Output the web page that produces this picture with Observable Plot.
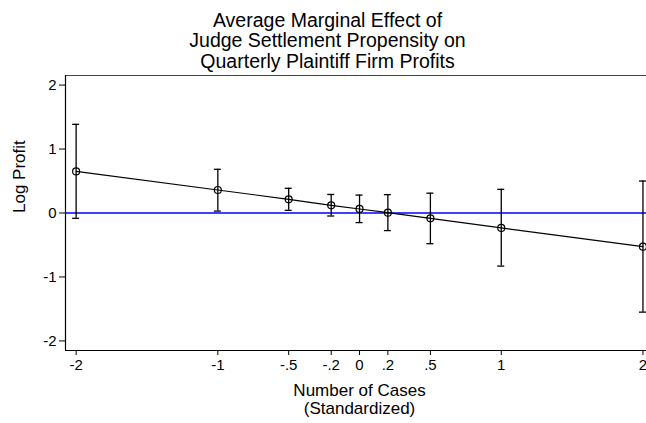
<!DOCTYPE html>
<html>
<head>
<meta charset="utf-8">
<script src="https://cdn.jsdelivr.net/npm/d3@7"></script>
<script src="https://cdn.jsdelivr.net/npm/@observablehq/plot@0.6"></script>
<style>
  html, body { margin: 0; padding: 0; background: #fff; }
  #chart { width: 646px; height: 423px; }
</style>
</head>
<body>
<div id="chart"></div>
<script>
// Data
const xValues = [-2, -1, -0.5, -0.2, 0, 0.2, 0.5, 1, 2];
const estimates = [0.65, 0.36, 0.214, 0.12, 0.063, 0.005, -0.083, -0.234, -0.526];
const lowerCI = [-0.083, 0.03, 0.042, -0.047, -0.15, -0.275, -0.48, -0.83, -1.55];
const upperCI = [1.386, 0.683, 0.386, 0.29, 0.28, 0.287, 0.31, 0.37, 0.5];
const xTickLabels = ["-2", "-1", "-.5", "-.2", "0", ".2", ".5", "1", "2"];
const yTicks = [-2, -1, 0, 1, 2];
const yTickLabels = ["-2", "-1", "0", "1", "2"];
const xDomain = [-2.075, 2.025];
const yDomain = [-2.15, 2.15];
const titleText = "Average Marginal Effect of\nJudge Settlement Propensity on\nQuarterly Plaintiff Firm Profits";
const xLabel = "Number of Cases\n(Standardized)";
const yLabel = "Log Profit";

const data = xValues.map((x, i) => ({x, est: estimates[i], lo: lowerCI[i], hi: upperCI[i]}));
const fmtX = new Map(xValues.map((x, i) => [x, xTickLabels[i]]));
const fmtY = new Map(yTicks.map((y, i) => [y, yTickLabels[i]]));
const font = "'Liberation Sans', Arial, Helvetica, sans-serif";

const chart = Plot.plot({
  width: 646,
  height: 423,
  marginLeft: 65,
  marginRight: 0,
  marginTop: 75,
  marginBottom: 73,
  style: {fontFamily: font, background: "#fff", color: "#000"},
  x: {domain: xDomain},
  y: {domain: yDomain},
  marks: [
    Plot.ruleY([yDomain[1]], {stroke: "#444", strokeWidth: 1}),
    Plot.ruleX([xDomain[0]], {stroke: "#000", strokeWidth: 1.2}),
    Plot.ruleY([yDomain[0]], {stroke: "#000", strokeWidth: 1.2}),
    Plot.axisY({ticks: yTicks, tickFormat: d => fmtY.get(d), tickSize: 6, tickPadding: 3, label: null, fontSize: 15, stroke: "#000"}),
    Plot.axisX({ticks: xValues, tickFormat: d => fmtX.get(d), tickSize: 5, tickPadding: 4, label: null, fontSize: 15, stroke: "#000"}),
    Plot.ruleY([0], {stroke: "#0000ff", strokeWidth: 1.3}),
    Plot.ruleX(data, {x: "x", y1: "lo", y2: "hi", stroke: "#000", strokeWidth: 1.3}),
    Plot.ruleY(data, {y: "hi", x1: "x", x2: "x", insetLeft: -3.5, insetRight: -3.5, stroke: "#000", strokeWidth: 1.3}),
    Plot.ruleY(data, {y: "lo", x1: "x", x2: "x", insetLeft: -3.5, insetRight: -3.5, stroke: "#000", strokeWidth: 1.3}),
    Plot.line(data, {x: "x", y: "est", stroke: "#000", strokeWidth: 1.2}),
    Plot.dot(data, {x: "x", y: "est", r: 3.5, stroke: "#000", strokeWidth: 1.2, fill: "none"}),
    Plot.text([titleText], {frameAnchor: "top", dx: -28.5, dy: -34.5, lineAnchor: "middle", fontSize: 19.5, lineHeight: 1.03, fill: "#000"}),
    Plot.text([xLabel], {frameAnchor: "bottom", dx: 3.5, dy: 49, lineAnchor: "middle", fontSize: 17, lineHeight: 1.06, fill: "#000"}),
    Plot.text([yLabel], {frameAnchor: "left", dx: -45.5, rotate: -90, fontSize: 17, fill: "#000"})
  ]
});
document.getElementById("chart").appendChild(chart);
</script>
</body>
</html>
